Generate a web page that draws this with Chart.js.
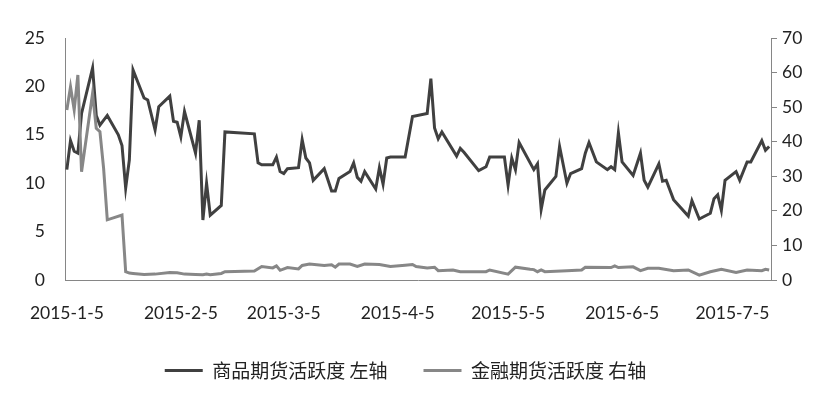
<!DOCTYPE html>
<html>
<head>
<meta charset="utf-8">
<script src="https://cdn.jsdelivr.net/npm/chart.js@4"></script>
<style>
  html, body { margin: 0; padding: 0; background: #fff; }
</style>
</head>
<body>
<canvas id="chart" width="833" height="398"></canvas>
<script>
// 商品期货活跃度（左轴），交易日 M-D，2015年
const commodityDates = [
  '1-5','1-6','1-7','1-8','1-9','1-12','1-13','1-14','1-16','1-19','1-20','1-21','1-22','1-23',
  '1-26','1-27','1-29','1-30','2-2','2-3','2-4','2-5','2-6','2-9','2-10','2-11','2-12','2-13',
  '2-16','2-17','2-25','2-26','2-27','3-2','3-3','3-4','3-5','3-6','3-9','3-10','3-11','3-12',
  '3-13','3-16','3-18','3-19','3-20','3-23','3-24','3-25','3-26','3-27','3-30','3-31','4-1',
  '4-2','4-3','4-7','4-9','4-13','4-14','4-15','4-16','4-17','4-21','4-22','4-23','4-27','4-29',
  '4-30','5-4','5-5','5-6','5-7','5-8','5-12','5-13','5-14','5-15','5-18','5-19','5-21','5-22',
  '5-25','5-26','5-27','5-29','6-1','6-2','6-3','6-4','6-5','6-8','6-10','6-11','6-12','6-15',
  '6-16','6-17','6-19','6-23','6-24','6-26','6-29','6-30','7-1','7-2','7-3','7-6','7-7','7-9',
  '7-10','7-13','7-14','7-15'
];
const commodityValues = [
  11.4, 14.4, 13.3, 13.1, 17.2, 21.9, 17.0, 16.0, 17.0, 15.0, 13.9, 9.5, 12.4, 21.7,
  18.8, 18.6, 15.5, 17.9, 19.0, 16.4, 16.3, 14.8, 17.4, 13.1, 16.5, 6.2, 10.0, 6.7,
  7.7, 15.3, 15.1, 12.1, 11.9, 11.9, 12.7, 11.2, 11.0, 11.5, 11.6, 14.5, 12.6, 12.1,
  10.3, 11.5, 9.2, 9.2, 10.5, 11.2, 12.1, 10.6, 10.2, 11.2, 9.4, 11.6, 9.9,
  12.6, 12.7, 12.7, 16.9, 17.2, 20.8, 15.7, 14.6, 15.3, 12.8, 13.6, 13.2, 11.3, 11.7,
  12.7, 12.7, 9.8, 12.6, 11.4, 14.2, 11.4, 12.0, 7.3, 9.3, 10.7, 13.8, 10.0, 11.0,
  11.5, 13.1, 14.2, 12.2, 11.4, 11.7, 11.4, 15.2, 12.2, 10.8, 13.1, 10.3, 9.6, 12.0,
  10.2, 10.3, 8.3, 6.6, 8.2, 6.3, 6.9, 8.4, 8.8, 7.2, 10.3, 11.2, 10.3, 12.2,
  12.2, 14.4, 13.4, 13.8
];

// 金融期货活跃度（右轴）
const financeDates = [
  '1-5','1-6','1-7','1-8','1-9','1-12','1-13','1-14','1-15','1-16','1-20','1-21','1-22','1-23',
  '1-26','1-29','2-2','2-4','2-6','2-9','2-11','2-12','2-13','2-16','2-17','2-25','2-27','3-2',
  '3-3','3-4','3-6','3-9','3-10','3-12','3-16','3-18','3-19','3-20','3-23','3-25','3-27','3-31',
  '4-3','4-7','4-9','4-10','4-13','4-15','4-16','4-20','4-22','4-29','4-30','5-5','5-7','5-11',
  '5-12','5-13','5-14','5-15','5-21','5-25','5-26','6-2','6-3','6-4','6-8','6-10','6-12','6-15',
  '6-19','6-23','6-26','6-29','7-2','7-6','7-9','7-13','7-14','7-15'
];
const financeValues = [
  49.2, 55.9, 49.2, 59.3, 31.3, 54.0, 43.9, 42.9, 32.3, 17.4, 18.8, 2.4, 2.0, 1.9,
  1.6, 1.7, 2.2, 2.1, 1.7, 1.6, 1.5, 1.7, 1.5, 1.9, 2.4, 2.6, 3.9, 3.5,
  4.1, 2.8, 3.6, 3.2, 4.2, 4.6, 4.2, 4.4, 3.7, 4.6, 4.6, 3.9, 4.6, 4.5,
  3.9, 4.3, 4.5, 3.9, 3.5, 3.7, 2.7, 2.9, 2.4, 2.4, 2.9, 1.7, 3.7, 3.1,
  3.0, 2.4, 2.9, 2.4, 2.7, 2.9, 3.7, 3.6, 4.1, 3.6, 3.8, 2.7, 3.4, 3.4,
  2.7, 2.9, 1.4, 2.4, 3.1, 2.2, 2.9, 2.7, 3.1, 2.9
];

const tickDates = ['1-5', '2-5', '3-5', '4-5', '5-5', '6-5', '7-5'];
const tickLabels = ['2015-1-5', '2015-2-5', '2015-3-5', '2015-4-5', '2015-5-5', '2015-6-5', '2015-7-5'];
const seriesNames = ['商品期货活跃度 左轴', '金融期货活跃度 右轴'];

// days since 2015-1-5
function dayOf(md) {
  const [m, d] = md.split('-').map(Number);
  return (Date.UTC(2015, m - 1, d) - Date.UTC(2015, 0, 5)) / 86400000;
}
const toPoints = (dates, values) => dates.map((d, i) => ({ x: dayOf(d), y: values[i] }));
const tickDays = tickDates.map(dayOf);

const axisColor = '#868686';
Chart.defaults.font.family = 'Lato';
Chart.defaults.color = '#222';

// legend sits a bit left of centre in the original
const legendShift = {
  id: 'legendShift',
  afterLayout(chart) {
    chart.legend.left -= 11;
    chart.legend.right -= 11;
  }
};

new Chart(document.getElementById('chart'), {
  type: 'line',
  data: {
    datasets: [{
      label: seriesNames[0],
      data: toPoints(commodityDates, commodityValues),
      borderColor: '#404040',
      borderWidth: 3,
      pointRadius: 0,
      yAxisID: 'yL',
      order: 1
    }, {
      label: seriesNames[1],
      data: toPoints(financeDates, financeValues),
      borderColor: '#878787',
      borderWidth: 3,
      pointRadius: 0,
      yAxisID: 'yR',
      order: 0
    }]
  },
  plugins: [legendShift],
  options: {
    responsive: false,
    animation: false,
    layout: { padding: { top: 38, bottom: 8, left: 0, right: 0 } },
    plugins: {
      tooltip: { enabled: false },
      legend: {
        position: 'bottom',
        labels: {
          font: { family: '"Noto Sans CJK SC"', size: 19 },
          boxWidth: 38,
          boxHeight: 3,
          padding: 36,
          generateLabels: chart => chart.data.datasets.map((ds, i) => ({
            text: ds.label,
            fillStyle: ds.borderColor,
            strokeStyle: ds.borderColor,
            lineWidth: 0,
            hidden: false,
            datasetIndex: i,
            fontColor: '#222'
          }))
        }
      }
    },
    scales: {
      x: {
        type: 'linear',
        min: dayOf('1-5') - 0.5,
        max: dayOf('7-15') + 0.5,
        grid: { display: false, drawTicks: false },
        border: { color: axisColor, width: 1 },
        afterBuildTicks: scale => { scale.ticks = tickDays.map(v => ({ value: v })); },
        afterFit: scale => { scale.height = 45; },
        ticks: {
          autoSkip: false,
          maxRotation: 0,
          padding: 23,
          font: { size: 17.5 },
          callback: v => tickLabels[tickDays.indexOf(v)]
        }
      },
      yL: {
        position: 'left',
        min: 0,
        max: 25,
        grid: { display: false, drawTicks: false },
        border: { color: axisColor, width: 1 },
        afterFit: scale => { scale.width = 65; },
        ticks: { stepSize: 5, padding: 20, font: { size: 17.5 } }
      },
      yR: {
        position: 'right',
        min: 0,
        max: 70,
        grid: { drawOnChartArea: false, drawTicks: true, tickLength: 6, color: axisColor },
        border: { color: axisColor, width: 1 },
        afterFit: scale => { scale.width = 62; },
        ticks: { stepSize: 10, padding: 5, font: { size: 17.5 } }
      }
    }
  }
});
</script>
</body>
</html>
